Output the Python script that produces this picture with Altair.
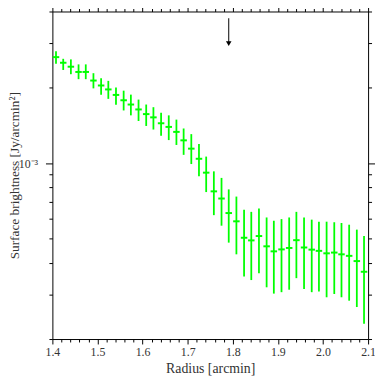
import altair as alt
import pandas as pd

# ---- data ----
radius = [1.408, 1.424, 1.441, 1.458, 1.474, 1.491, 1.508, 1.524, 1.541, 1.558,
          1.574, 1.591, 1.608, 1.624, 1.641, 1.658, 1.675, 1.691, 1.708, 1.725,
          1.741, 1.758, 1.775, 1.791, 1.808, 1.825, 1.841, 1.858, 1.875, 1.891,
          1.908, 1.925, 1.941, 1.958, 1.975, 1.991, 2.008, 2.025, 2.041, 2.058,
          2.075, 2.091]
# surface brightness in units of 1e-3 Jy/arcmin^2
brightness = [2.635, 2.503, 2.414, 2.301, 2.301, 2.127, 2.033, 1.961, 1.865, 1.776,
              1.708, 1.633, 1.565, 1.519, 1.439, 1.392, 1.330, 1.231, 1.141, 1.040,
              0.916, 0.772, 0.723, 0.633, 0.587, 0.505, 0.493, 0.513, 0.467, 0.446,
              0.454, 0.460, 0.494, 0.462, 0.453, 0.448, 0.438, 0.441, 0.434, 0.428,
              0.408, 0.370]
upper = [2.780, 2.595, 2.581, 2.466, 2.466, 2.275, 2.174, 2.121, 1.997, 1.939,
         1.870, 1.787, 1.708, 1.667, 1.585, 1.547, 1.488, 1.372, 1.303, 1.190,
         1.061, 0.927, 0.873, 0.786, 0.736, 0.652, 0.640, 0.660, 0.608, 0.590,
         0.599, 0.608, 0.640, 0.608, 0.596, 0.585, 0.585, 0.582, 0.578, 0.569,
         0.544, 0.513]
lower = [2.480, 2.343, 2.254, 2.154, 2.154, 1.980, 1.870, 1.799, 1.703, 1.618,
         1.547, 1.469, 1.404, 1.359, 1.283, 1.234, 1.180, 1.078, 0.991, 0.886,
         0.767, 0.621, 0.564, 0.483, 0.434, 0.354, 0.343, 0.365, 0.321, 0.303,
         0.307, 0.314, 0.349, 0.316, 0.307, 0.309, 0.293, 0.302, 0.293, 0.284,
         0.268, 0.230]
x_half_width = 0.0072
unit = 1e-3

arrow_radius = [1.791]
arrow_top = [3.76e-3]
arrow_head = [2.98e-3]

x_major = [1.4, 1.5, 1.6, 1.7, 1.8, 1.9, 2.0, 2.1]
x_minor = [1.42, 1.44, 1.46, 1.48, 1.52, 1.54, 1.56, 1.58, 1.62, 1.64, 1.66, 1.68,
           1.72, 1.74, 1.76, 1.78, 1.82, 1.84, 1.86, 1.88, 1.92, 1.94, 1.96, 1.98,
           2.02, 2.04, 2.06, 2.08]
y_major = [1e-3]
y_minor = [2e-4, 3e-4, 4e-4, 5e-4, 6e-4, 7e-4, 8e-4, 9e-4, 2e-3, 3e-3, 4e-3]
x_domain = [1.4, 2.1]
y_domain = [2e-4, 4e-3]

df = pd.DataFrame({
    "r": radius,
    "r_lo": [r - x_half_width for r in radius],
    "r_hi": [r + x_half_width for r in radius],
    "sb": [v * unit for v in brightness],
    "sb_lo": [v * unit for v in lower],
    "sb_hi": [v * unit for v in upper],
})
arrow_df = pd.DataFrame({"ax": arrow_radius, "atop": arrow_top, "ahead": arrow_head})

FONT = "Liberation Serif"
GREEN = "#00ff00"
xs = alt.Scale(domain=x_domain, nice=False, zero=False)
ys = alt.Scale(type="log", domain=y_domain, nice=False)

common = dict(domainColor="black", tickColor="black", domainWidth=1, tickWidth=1,
              labelFont=FONT, titleFont=FONT, labelColor="#333", titleColor="#333",
              grid=False, titleFontWeight="normal")

ax_bottom = alt.Axis(orient="bottom", values=x_major, format=".1f", tickSize=5,
                     labelFontSize=12, labelPadding=3, labelFlush=False,
                     labelOverlap=False, titleFontSize=14, titleX=160, titleY=30,
                     titleAlign="center", titleBaseline="middle", **common)
ax_bottom_minor = alt.Axis(orient="bottom", values=x_minor, tickSize=3, labels=False,
                           domain=False, **common)
ax_top = alt.Axis(orient="top", values=x_major, tickSize=6, labels=False, **common)
ax_top_minor = alt.Axis(orient="top", values=x_minor, tickSize=3, labels=False,
                        domain=False, **common)
ax_left = alt.Axis(orient="left", values=y_major, labelExpr="'10⁻³'", tickSize=7,
                   labelFontSize=12, labelPadding=8, titleFontSize=13.5,
                   titleX=-38, titleY=166, titleAngle=270, titleAlign="center",
                   titleBaseline="middle", **common)
ax_left_minor = alt.Axis(orient="left", values=y_minor, tickSize=3.5, labels=False,
                         domain=False, **common)
ax_right = alt.Axis(orient="right", values=y_major, tickSize=7, labels=False, **common)
ax_right_minor = alt.Axis(orient="right", values=y_minor, tickSize=3.5, labels=False,
                          domain=False, **common)

vbars = alt.Chart(df).mark_rule(color=GREEN, strokeWidth=1.8).encode(
    x=alt.X("r:Q", scale=xs, axis=ax_bottom, title="Radius [arcmin]"),
    y=alt.Y("sb_lo:Q", scale=ys, axis=ax_left, title="Surface brightness [Jy/arcmin²]"),
    y2="sb_hi:Q",
)
hbars = alt.Chart(df).mark_rule(color=GREEN, strokeWidth=2).encode(
    x=alt.X("r_lo:Q", scale=xs, axis=ax_bottom_minor, title=None),
    x2="r_hi:Q",
    y=alt.Y("sb:Q", scale=ys, axis=ax_left_minor, title=None),
)
arrow_shaft = alt.Chart(arrow_df).mark_rule(color="black", strokeWidth=1).encode(
    x=alt.X("ax:Q", scale=xs, axis=ax_top, title=None),
    y=alt.Y("atop:Q", scale=ys, axis=ax_right, title=None),
    y2="ahead:Q",
)
arrow_tip = alt.Chart(arrow_df).mark_point(shape="triangle-down", filled=True,
                                           color="black", size=32, opacity=1).encode(
    x=alt.X("ax:Q", scale=xs, axis=ax_top_minor, title=None),
    y=alt.Y("ahead:Q", scale=ys, axis=ax_right_minor, title=None),
)

chart = alt.layer(vbars, hbars, arrow_shaft, arrow_tip).resolve_axis(
    x="independent", y="independent"
).properties(
    width=320, height=332,
    autosize=alt.AutoSizeParams(type="none"),
    padding={"left": 45, "top": 1, "right": 7, "bottom": 40},
).configure_view(strokeWidth=0)

chart.save("out.html", embed_options={"renderer": "svg", "actions": False})
